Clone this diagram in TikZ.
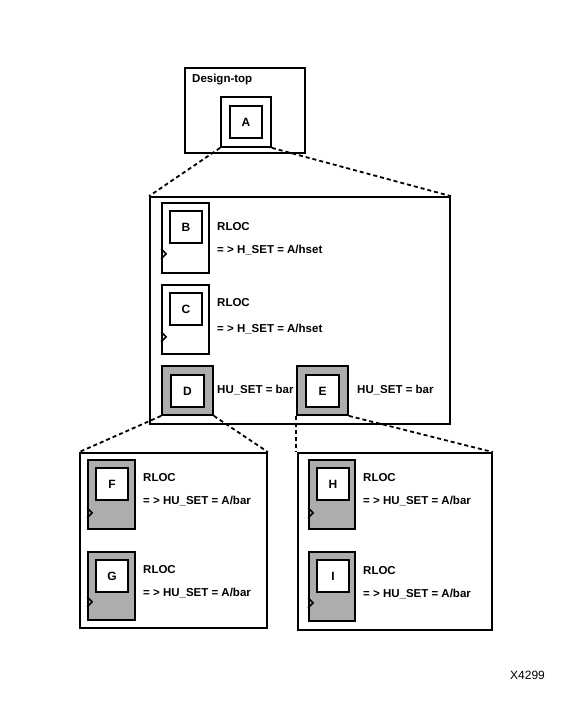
\documentclass[tikz,border=0pt]{standalone}
\usepackage{fontspec}
\setmainfont{Liberation Sans}
\usetikzlibrary{calc}

\tikzset{
  frame/.style={draw, line width=1.8pt, inner sep=0pt},
  cell/.style={frame, fill=white},
  grcell/.style={frame, fill=black!32},
  letter/.style={frame, fill=white, minimum width=32pt, minimum height=32pt, font=\bfseries\fontsize{12}{14}\selectfont},
  lbl/.style={anchor=west, inner sep=0pt, font=\bfseries\fontsize{11.5}{14}\selectfont},
  zoomline/.style={line width=1.8pt, dash pattern=on 4pt off 3pt}
}
\newcommand{\clk}[2]{\draw[line width=1.5pt] ($(#1.south west)+(0,-#2-5)$) -- ++(5,5) -- ++(-5,5);}

\begin{document}
\begin{tikzpicture}[x=1pt, y=-1pt]
  \useasboundingbox[fill=white] (0,0) rectangle (582,713);

  % design top
  \node[cell, minimum width=120pt, minimum height=85pt] (top) at (245,110.5) {};
  \node[lbl] (toplbl) at (192,80) {Design-top};
  \node[cell, minimum width=50pt, minimum height=50pt] (Aout) at (246,122) {};
  \node[letter] (A) at (246,122) {A};

  % middle level
  \node[cell, minimum width=300pt, minimum height=227pt] (mid) at (300,310.5) {};
  \draw[zoomline] (Aout.south west) -- (mid.north west);
  \draw[zoomline] (Aout.south east) -- (mid.north east);

  \node[cell, minimum width=47pt, minimum height=70pt] (Bbox) at (185.5,238) {};
  \node[letter] (B) at (186,227) {B};
  \clk{Bbox}{20}
  \node[lbl] (Brloc) at (217,227) {RLOC};
  \node[lbl] (Bset) at (217,250) {= > H\_SET = A/hset};

  \node[cell, minimum width=47pt, minimum height=69pt] (Cbox) at (185.5,319.5) {};
  \node[letter] (C) at (186,309) {C};
  \clk{Cbox}{18}
  \node[lbl] (Crloc) at (217,303) {RLOC};
  \node[lbl] (Cset) at (217,329) {= > H\_SET = A/hset};

  \node[grcell, minimum width=51pt, minimum height=49pt] (Dbox) at (187.5,390.5) {};
  \node[letter, minimum width=33pt] (D) at (187.5,391) {D};
  \node[lbl] (Dset) at (217,390) {HU\_SET = bar};

  \node[grcell, minimum width=51pt, minimum height=49pt] (Ebox) at (322.5,390.5) {};
  \node[letter, minimum width=33pt] (E) at (322.5,391) {E};
  \node[lbl] (Eset) at (357,390) {HU\_SET = bar};

  % bottom level, left
  \node[cell, minimum width=187pt, minimum height=175pt] (FG) at (173.5,540.5) {};
  \draw[zoomline] (Dbox.south west) -- (FG.north west);
  \draw[zoomline] (Dbox.south east) -- (FG.north east);

  \node[grcell, minimum width=47pt, minimum height=69pt] (Fbox) at (111.5,494.5) {};
  \node[letter] (F) at (112,484) {F};
  \clk{Fbox}{17}
  \node[lbl] (Frloc) at (143,478) {RLOC};
  \node[lbl] (Fset) at (143,501) {= > HU\_SET = A/bar};

  \node[grcell, minimum width=47pt, minimum height=68pt] (Gbox) at (111.5,586) {};
  \node[letter] (G) at (112,576) {G};
  \clk{Gbox}{19}
  \node[lbl] (Grloc) at (143,570) {RLOC};
  \node[lbl] (Gset) at (143,593) {= > HU\_SET = A/bar};

  % bottom level, right
  \node[cell, minimum width=194pt, minimum height=177pt] (HI) at (395,541.5) {};
  \draw[zoomline] (Ebox.south west) -- (HI.north west -| Ebox.south west);
  \draw[zoomline] (Ebox.south east) -- (HI.north east);

  \node[grcell, minimum width=46pt, minimum height=69pt] (Hbox) at (332,494.5) {};
  \node[letter] (H) at (333,484) {H};
  \clk{Hbox}{17}
  \node[lbl] (Hrloc) at (363,478) {RLOC};
  \node[lbl] (Hset) at (363,501) {= > HU\_SET = A/bar};

  \node[grcell, minimum width=46pt, minimum height=69pt] (Ibox) at (332,586.5) {};
  \node[letter] (I) at (333,576) {I};
  \clk{Ibox}{19}
  \node[lbl] (Irloc) at (363,571) {RLOC};
  \node[lbl] (Iset) at (363,594) {= > HU\_SET = A/bar};

  \node[lbl, font=\fontsize{12}{14}\selectfont] (fig) at (510,675) {X4299};
\end{tikzpicture}
\end{document}
